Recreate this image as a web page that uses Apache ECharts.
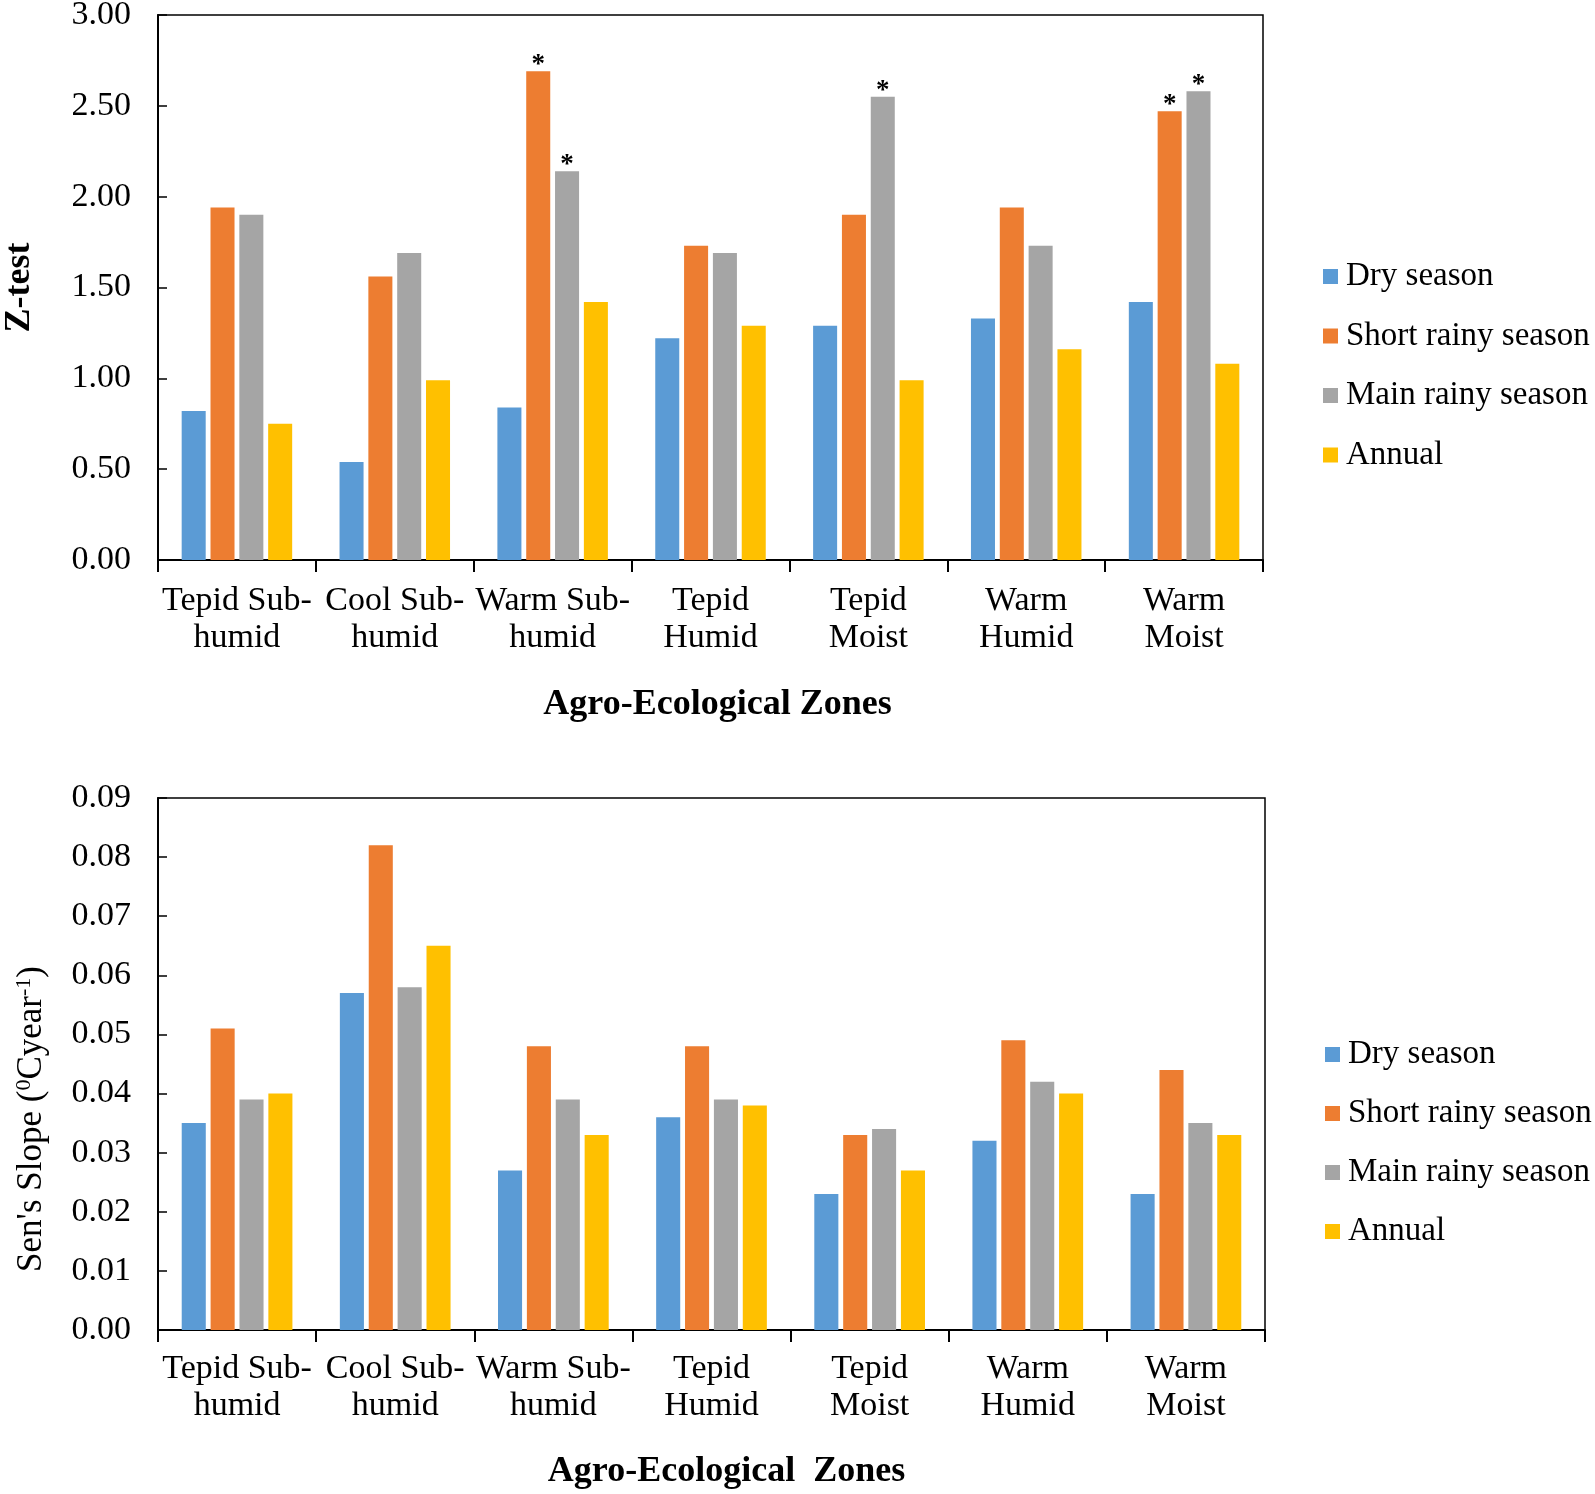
<!DOCTYPE html>
<html>
<head>
<meta charset="utf-8">
<script src="https://cdn.jsdelivr.net/npm/echarts@6/dist/echarts.min.js"></script>
<style>
html,body{margin:0;padding:0;background:#fff;}
#c{width:1595px;height:1494px;}
</style>
</head>
<body>
<div id="c"></div>
<script>
// ---- data ----
const zones = ['Tepid Sub-\nhumid', 'Cool Sub-\nhumid', 'Warm Sub-\nhumid', 'Tepid\nHumid', 'Tepid\nMoist', 'Warm\nHumid', 'Warm\nMoist'];
const seriesNames = ['Dry season', 'Short rainy season', 'Main rainy season', 'Annual'];
const colors = ['#5B9BD5', '#ED7D31', '#A5A5A5', '#FFC000'];

// Z-test
const zDry   = [0.82, 0.54, 0.84, 1.22, 1.29, 1.33, 1.42];
const zShort = [1.94, 1.56, 2.69, 1.73, 1.90, 1.94, 2.47];
const zMain  = [1.90, 1.69, 2.14, 1.69, 2.55, 1.73, 2.58];
const zAnn   = [0.75, 0.99, 1.42, 1.29, 0.99, 1.16, 1.08];
// significance flags (asterisks)
const sigShort = [0, 0, 1, 0, 0, 0, 1];
const sigMain  = [0, 0, 1, 0, 1, 0, 1];
const sigDry   = [0, 0, 0, 0, 0, 0, 0];
const sigAnn   = [0, 0, 0, 0, 0, 0, 0];

// Sen's slope
const sDry   = [0.035, 0.057, 0.027, 0.036, 0.023, 0.032, 0.023];
const sShort = [0.051, 0.082, 0.048, 0.048, 0.033, 0.049, 0.044];
const sMain  = [0.039, 0.058, 0.039, 0.039, 0.034, 0.042, 0.035];
const sAnn   = [0.040, 0.065, 0.033, 0.038, 0.027, 0.040, 0.033];

const zTicks = {min: 0, max: 3, interval: 0.5};
const sTicks = {min: 0, max: 0.09, interval: 0.01};

// ---- build ----
const FONT = 'Liberation Serif';
const chart = echarts.init(document.getElementById('c'));

function withSig(vals, sig) {
  return vals.map((v, i) => sig[i] ? {value: v, label: {show: true}} : v);
}

function barSeries(name, color, data, idx) {
  return {
    name: name, type: 'bar', xAxisIndex: idx, yAxisIndex: idx,
    data: data, barGap: '20%', barCategoryGap: '30%',
    itemStyle: {color: color},
    label: {
      show: false, position: 'top', formatter: '*', distance: -7,
      color: '#000', fontFamily: FONT, fontWeight: 'bold', fontSize: 27, lineHeight: 26
    },
    emphasis: {disabled: true}
  };
}

const zData = [withSig(zDry, sigDry), withSig(zShort, sigShort), withSig(zMain, sigMain), withSig(zAnn, sigAnn)];
const sData = [sDry, sShort, sMain, sAnn];

const series = [];
seriesNames.forEach((n, i) => series.push(barSeries(n, colors[i], zData[i], 0)));
seriesNames.forEach((n, i) => series.push(barSeries(n, colors[i], sData[i], 1)));

function xAxis(idx, name, nameGap, namePadLeft, labelMargin) {
  return {
    type: 'category', gridIndex: idx, data: zones,
    name: name, nameLocation: 'middle', nameGap: nameGap,
    nameTextStyle: {fontFamily: FONT, fontWeight: 'bold', fontSize: 36, color: '#000', padding: [0, 0, 0, namePadLeft]},
    axisLine: {lineStyle: {color: '#000', width: 2}},
    axisTick: {show: true, length: 12, lineStyle: {color: '#000', width: 2}},
    axisLabel: {fontFamily: FONT, fontSize: 34, color: '#000', lineHeight: 37, margin: labelMargin, interval: 0}
  };
}

function yAxis(idx, t, name, nameGap, nameStyle) {
  return {
    type: 'value', gridIndex: idx, min: t.min, max: t.max, interval: t.interval,
    name: name, nameLocation: 'middle', nameGap: nameGap, nameRotate: 90,
    nameTextStyle: nameStyle,
    splitLine: {show: false},
    axisLine: {show: true, lineStyle: {color: '#000', width: 2}},
    axisTick: {show: true, inside: true, length: 9, lineStyle: {color: '#000', width: 1.5}},
    axisLabel: {fontFamily: FONT, fontSize: 34, color: '#000', margin: 27,
      formatter: v => v.toFixed(2)}
  };
}

function legend(top, left, gap) {
  return {
    orient: 'vertical', left: left, top: top, itemGap: gap, padding: 0,
    itemWidth: 15, itemHeight: 15, icon: 'rect',
    data: seriesNames,
    textStyle: {fontFamily: FONT, fontSize: 33, color: '#000', lineHeight: 32, padding: [0, 0, 0, 3]},
    selectedMode: false
  };
}

chart.setOption({
  animation: false,
  backgroundColor: '#fff',
  textStyle: {fontFamily: FONT},
  grid: [
    {left: 158, top: 15, width: 1105, height: 545, show: true, borderColor: '#000', borderWidth: 1.5,
     backgroundColor: 'transparent', containLabel: false, outerBoundsMode: 'none'},
    {left: 158, top: 798, width: 1107, height: 532, show: true, borderColor: '#000', borderWidth: 1.5,
     backgroundColor: 'transparent', containLabel: false, outerBoundsMode: 'none'}
  ],
  legend: [legend(260, 1323, 26.5), legend(1038, 1325, 26)],
  xAxis: [xAxis(0, 'Agro-Ecological Zones', 127, 14, 23), xAxis(1, 'Agro-Ecological  Zones', 124, 30, 21)],
  yAxis: [
    yAxis(0, zTicks, 'Z-test', 120, {fontFamily: FONT, fontWeight: 'bold', fontSize: 36, color: '#000'}),
    yAxis(1, sTicks, "{n|Sen's Slope (}{sup|0}{n|Cyear}{sup|-1}{n|)}", 107, {
      fontFamily: FONT, fontSize: 35, color: '#000', padding: [0, 110, 0, 0],
      rich: {
        n: {fontFamily: FONT, fontSize: 35, lineHeight: 38, color: '#000'},
        sup: {fontFamily: FONT, fontSize: 22, lineHeight: 22, color: '#000', verticalAlign: 'top'}
      }
    })
  ],
  series: series
});
</script>
</body>
</html>
